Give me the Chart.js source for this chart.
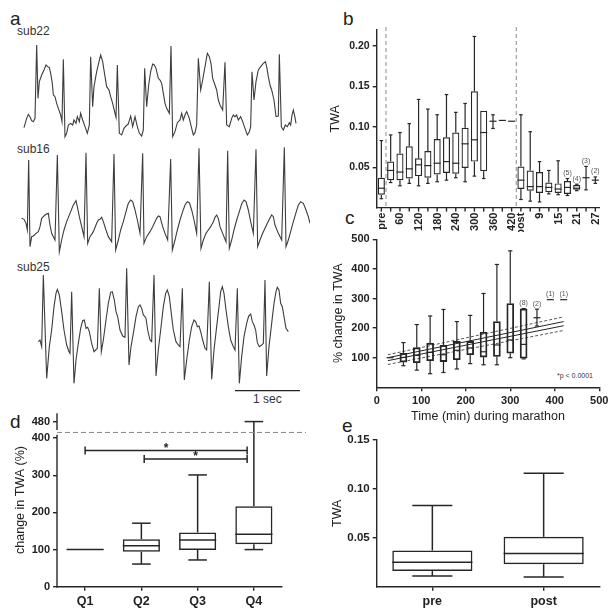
<!DOCTYPE html>
<html>
<head>
<meta charset="utf-8">
<script src="https://cdn.jsdelivr.net/npm/chart.js@4.4.1/dist/chart.umd.min.js"></script>
<style>
  html, body { margin: 0; padding: 0; background: #fff; }
  body { width: 616px; height: 616px; position: relative; overflow: hidden;
         font-family: "Liberation Sans", Arial, sans-serif; color: #222; }
  canvas { position: absolute; }
  .txt { position: absolute; line-height: 1; white-space: nowrap; }
  .letter { font-size: 19px; }
  .sub { font-size: 12px; color: #333; }
</style>
</head>
<body>
<div class="txt letter" style="left:10px;top:9px">a</div>
<div class="txt letter" style="left:343px;top:9px">b</div>
<div class="txt letter" style="left:345px;top:208px">c</div>
<div class="txt letter" style="left:10px;top:412px">d</div>
<div class="txt letter" style="left:342px;top:416px">e</div>
<div class="txt sub" style="left:17px;top:25px">sub22</div>
<div class="txt sub" style="left:17px;top:143px">sub16</div>
<div class="txt sub" style="left:17px;top:261px">sub25</div>
<div class="txt sub" style="left:253px;top:393px">1 sec</div>
<div class="txt" style="left:557px;top:372px;font-size:7px;color:#333">*p &lt; 0.0001</div>

<canvas id="chartB" width="306" height="232" style="left:310px;top:0"></canvas>
<canvas id="chartC" width="306" height="196" style="left:310px;top:228px"></canvas>
<canvas id="ecg22" width="310" height="100" style="left:0;top:40px"></canvas>
<canvas id="ecg16" width="310" height="117" style="left:0;top:140px"></canvas>
<canvas id="ecg25" width="310" height="130" style="left:0;top:265px"></canvas>
<canvas id="chartD" width="310" height="211" style="left:0;top:405px"></canvas>
<canvas id="chartE" width="306" height="186" style="left:310px;top:430px"></canvas>

<script>
const FONT = '"Liberation Sans", Arial, sans-serif';
const INK = '#262626';
Chart.defaults.font.family = FONT;
Chart.defaults.color = '#222';

// ---- a: ECG strips, x = sample index (195 samples per second), y = amplitude (a.u.)
const SAMPLES_PER_SEC = 195;
const sub22T = [72,80,85,90,95,100,105,110,114,118,125,132,138,143,148,152,157,160,165,170,175,182,186,190,195,200,205,212,218,222,228,232,238,242,248,255,262,268,272,278,282,290,297,302,308,315,320,327,332,338,345,348,352,358,365,372,378,385,392,398,405,412,418,425,430,434,440,446,452,458,463,468,475,480,485,490,495,500,508,513,518,525,532,540,545,550,555,560,568,575,580,585,590,595,602,608,615,622,628,633,638,645,650,655,660,668,675,680,688,695,700,705,710,715,722,728,735,742,748,752,756,762,768,775,782,790,796,800,805,810,815,822,828,835,838,844,850,856,862,868,872,876,880,885,888];
const sub22V = [17,45,57,50,38,35,45,265,105,155,175,190,205,200,197,180,150,115,110,90,75,55,35,222,-10,0,25,30,25,40,30,50,35,60,40,20,0,25,230,80,140,185,215,235,215,170,140,130,110,90,60,48,205,0,-5,15,22,28,52,20,50,20,0,-8,10,195,80,145,185,208,205,195,165,160,150,120,90,75,60,262,-10,5,32,40,60,40,55,65,45,15,-5,2,25,225,130,160,200,240,230,210,165,145,130,100,85,70,213,25,20,45,55,50,55,40,50,35,15,-5,5,20,185,100,155,190,200,210,215,200,170,145,130,100,50,52,237,20,10,25,20,32,25,55,70,48,30];
const sub16T = [65,72,78,82,86,90,95,100,108,115,120,125,130,135,140,145,150,155,160,165,172,178,185,192,200,210,220,228,232,238,245,252,258,263,270,280,290,295,300,305,310,318,325,335,342,347,355,362,370,378,385,392,398,405,412,420,428,432,440,450,458,465,470,475,480,488,495,503,512,517,525,532,540,548,555,562,568,575,582,590,597,603,610,618,625,632,640,645,650,655,660,668,678,683,688,695,702,710,718,725,732,738,745,752,760,768,773,780,788,795,802,808,815,820,825,835,845,853,858,865,872,880,888,895,902,910,918,925,930];
const sub16V = [95,92,80,60,270,10,40,42,50,55,70,95,100,105,108,110,75,50,40,30,285,-5,30,60,85,110,135,148,130,100,70,40,292,20,40,55,80,90,92,98,85,60,40,25,288,0,30,60,85,115,140,150,145,120,90,50,290,20,40,55,70,85,95,102,100,70,50,30,273,0,30,60,90,115,135,145,142,120,90,50,305,5,30,50,60,70,85,98,105,95,70,50,25,298,5,30,60,90,115,138,150,145,120,85,50,302,10,30,50,65,80,92,105,100,75,50,30,308,10,30,55,85,112,135,145,140,120,100,80];
const sub25T = [115,120,125,130,140,148,155,162,168,172,178,185,192,200,207,210,215,222,228,235,242,248,253,258,263,268,275,282,287,292,298,304,310,318,325,332,337,343,348,353,360,368,375,380,387,393,400,408,415,420,425,430,435,438,443,450,455,462,468,475,482,490,497,502,508,515,520,528,535,540,547,553,560,568,575,582,587,592,597,602,608,615,620,628,635,642,650,657,662,667,672,678,685,692,700,705,712,718,725,732,740,746,752,757,762,767,772,778,785,790,795,800,807,815,822,828,832,837,842,847,852,858,865];
const sub25V = [25,30,10,225,-85,10,60,130,170,182,165,115,60,15,-5,-10,175,-100,-30,20,65,88,90,65,68,55,20,-5,0,5,185,-5,30,90,140,173,175,150,115,100,60,42,38,245,-45,10,50,100,130,135,125,105,100,95,60,30,25,225,-78,0,60,130,170,180,160,100,60,25,15,10,185,-90,-30,30,70,90,85,70,72,55,30,5,0,205,-88,0,70,130,175,190,170,120,70,30,10,0,185,-100,-20,40,80,102,108,85,75,60,22,10,15,20,210,-78,10,80,140,175,188,180,140,130,100,65,55];
const scaleBarStart = 705;
const scaleBarLevel = -122;

// ---- b: TWA over time
const bCats = ['pre','30','60','90','120','150','180','210','240','270','300','330','360','390','420','post','6','9','12','15','18','21','24','27'];
const bTickLabels = ['pre','','60','','120','','180','','240','','300','','360','','420','post','','9','','15','','21','','27'];
const bMax = [0.083,0.090,0.093,0.104,0.134,0.122,0.115,0.140,0.118,0.129,0.212,0.120,0.115,0.108,0.107,0.115,0.094,0.057,0.046,0.058,0.036,0.029,0.051,0.038];
const bQ3  = [0.037,0.057,0.067,0.076,0.061,0.070,0.085,0.087,0.093,0.099,0.144,0.120,0.107,0.108,0.107,0.051,0.046,0.044,0.031,0.030,0.033,0.028,0.037,0.034];
const bMed = [0.024,0.046,0.044,0.048,0.053,0.052,0.055,0.057,0.055,0.079,0.084,0.093,0.107,0.108,0.107,0.034,0.026,0.026,0.025,0.023,0.025,0.024,0.037,0.034];
const bQ1  = [0.016,0.034,0.034,0.036,0.039,0.037,0.041,0.043,0.042,0.049,0.057,0.045,0.107,0.108,0.107,0.023,0.021,0.018,0.019,0.018,0.017,0.022,0.037,0.034];
const bMin = [0.011,0.031,0.027,0.030,0.027,0.030,0.032,0.034,0.037,0.032,0.039,0.036,0.098,0.108,0.107,0.010,0.008,0.007,0.017,0.016,0.015,0.021,0.022,0.030];
const bN   = ['','','','','','','','','','','','','','','','','','','','','(5)','(4)','(3)','(2)'];
const bSplitAfter = [0, 14];
const bYTicks = [0.05, 0.10, 0.15, 0.20];

// ---- c: % change in TWA during marathon
const cTimes = [30,60,90,120,150,180,210,240,270,300,330,360,390,420];
const cMax = [100,151,212,241,263,222,243,317,415,461,266,264,296,296];
const cQ3  = [100,115,134,149,142,155,155,186,222,283,265,235,296,296];
const cMed = [100,101,108,118,110,125,133,120,143,160,145,235,296,296];
const cQ1  = [100,85,83,90,87,93,110,102,104,115,98,235,296,296];
const cMin = [100,73,58,46,50,62,80,76,76,100,96,207,296,296];
const cN   = ['','','','','','','','','','','(8)','(2)','(1)','(1)'];
const fitX = [25, 420];
const fitA = [100, 222];
const fitB = [90, 208];
const ciUpper = [110, 238];
const ciLower = [77, 192];
const cXTicks = [0, 100, 200, 300, 400, 500];
const cYTicks = [100, 200, 300, 400, 500];

// ---- d: change in TWA by quartile
const dCats = ['Q1','Q2','Q3','Q4'];
const dMax = [100,171,301,480];
const dQ3  = [100,128,146,217];
const dMed = [100,110,126,141];
const dQ1  = [100,94,99,114];
const dMin = [100,61,72,100];
const dYTicks = [0, 100, 200, 300, 400, 480];
const bracketFrom = [0, 1.05];
const bracketTo = [2.88, 2.88];
const bracketLevel = [367, 344];
const D_BREAK = 415, D_SQUEEZE = 0.457;
const dAxisLowerEnd = 409, dAxisUpperStart = 431;

// ---- e: pre vs post
const eCats = ['pre','post'];
const eMax = [0.083,0.116];
const eQ3  = [0.037,0.051];
const eMed = [0.025,0.034];
const eQ1  = [0.016,0.023];
const eMin = [0.011,0.010];
const eYTicks = [0.05, 0.10, 0.15];

function seg(ctx, x1, y1, x2, y2) {
  ctx.beginPath(); ctx.moveTo(x1, y1); ctx.lineTo(x2, y2); ctx.stroke();
}

function common(pad) {
  return {
    responsive: false, animation: false, devicePixelRatio: 1, events: [],
    layout: { padding: pad },
    plugins: { legend: { display: false }, tooltip: { enabled: false } }
  };
}

function yAxis(o) {
  return {
    type: o.type || 'linear', min: o.min, max: o.max,
    border: { display: o.border !== false, color: INK, width: 1.4 },
    grid: { drawOnChartArea: false, tickLength: 4, color: INK, lineWidth: 1.4 },
    ticks: { font: { size: o.size || 11, weight: 'bold' }, color: '#222', padding: 3,
             callback: v => o.fmt ? v.toFixed(o.fmt) : v },
    title: { display: true, text: o.title, font: { size: 12.5 }, color: '#222',
             padding: { top: o.titlePad, bottom: 0 } },
    afterBuildTicks: s => { s.ticks = o.ticks.map(v => ({ value: v })); },
    afterFit: s => { s.width = o.width; s.paddingTop = 0; s.paddingBottom = 0; }
  };
}

function xCat(o) {
  return {
    type: 'category', offset: true,
    border: { color: INK, width: 1.4 },
    grid: { drawOnChartArea: false, offset: false, tickLength: 4, color: INK, lineWidth: 1.4 },
    ticks: { font: { size: o.size || 11, weight: 'bold' }, color: '#222', padding: 3,
             autoSkip: false, maxRotation: 0, callback: (v, i) => o.labels[i] },
    afterFit: s => { s.height = o.height; s.paddingLeft = 0; s.paddingRight = 0; }
  };
}

function boxPlugin(s) {
  return {
    id: 'box' + s.name,
    afterDatasetsDraw(chart) {
      const { ctx, scales: { x, y } } = chart;
      const w = s.frac ? Math.abs(x.getPixelForValue(1) - x.getPixelForValue(0)) * s.frac : s.px;
      ctx.save();
      ctx.strokeStyle = INK;
      ctx.lineWidth = s.lw;
      s.max.forEach((mx, i) => {
        const cx = x.getPixelForValue(s.pos ? s.pos[i] : i);
        const pMax = y.getPixelForValue(mx), pMin = y.getPixelForValue(s.min[i]);
        const pQ1 = y.getPixelForValue(s.q1[i]), pQ3 = y.getPixelForValue(s.q3[i]);
        const pMed = y.getPixelForValue(s.med[i]);
        const cap = w * s.cap / 2;
        seg(ctx, cx, pQ3, cx, pMax);
        seg(ctx, cx, pQ1, cx, pMin);
        if (mx !== s.q3[i]) seg(ctx, cx - cap, pMax, cx + cap, pMax);
        if (s.min[i] !== s.q1[i]) seg(ctx, cx - cap, pMin, cx + cap, pMin);
        seg(ctx, cx - w / 2, pMed, cx + w / 2, pMed);
        if (s.n && s.n[i]) {
          ctx.fillStyle = '#555'; ctx.font = '7px ' + FONT;
          ctx.textAlign = 'center'; ctx.textBaseline = 'bottom';
          ctx.fillText(s.n[i], cx, pMax - 2);
        }
      });
      ctx.restore();
    }
  };
}

function boxData(q1, q3) {
  return q1.map((v, i) => q3[i] > v ? [v, q3[i]] : null);
}

function boxDataset(data, extra) {
  return Object.assign({
    type: 'bar', data, backgroundColor: 'rgba(0,0,0,0)', borderColor: INK,
    borderWidth: 1.3, borderSkipped: false, categoryPercentage: 1
  }, extra);
}

// ---- b
const bSeparators = {
  id: 'bSep',
  afterDatasetsDraw(chart) {
    const { ctx, chartArea: a, scales: { x, y } } = chart;
    ctx.save();
    ctx.strokeStyle = '#8a8a8a'; ctx.lineWidth = 1; ctx.setLineDash([4, 3]);
    bSplitAfter.forEach(i => {
      const px = (x.getPixelForValue(i) + x.getPixelForValue(i + 1)) / 2;
      seg(ctx, px, a.top - 3, px, y.getPixelForValue(0));
    });
    ctx.restore();
  }
};
// x axis of panel b (vertical tick labels), anchored on the value 0 of the y scale
const bAxisX = {
  id: 'bAxisX',
  afterDraw(chart) {
    const { ctx, chartArea: a, scales: { x, y } } = chart;
    const y0 = y.getPixelForValue(0);
    ctx.save();
    ctx.strokeStyle = INK; ctx.lineWidth = 1.4;
    seg(ctx, a.left - 0.7, y0, a.right, y0);
    ctx.fillStyle = '#222';
    ctx.font = 'bold 11px ' + FONT;
    ctx.textAlign = 'right'; ctx.textBaseline = 'middle';
    bCats.forEach((c, i) => {
      const px = x.getPixelForValue(i);
      seg(ctx, px, y0, px, y0 + 4);
      if (bTickLabels[i]) {
        ctx.save();
        ctx.translate(px + 0.5, y0 + 5);
        ctx.rotate(-Math.PI / 2);
        ctx.fillText(bTickLabels[i], 0, 0);
        ctx.restore();
      }
    });
    ctx.font = '12.5px ' + FONT; ctx.textAlign = 'center';
    ctx.fillText('Time (min)', (a.left + a.right) / 2, y0 + 42.4);
    ctx.restore();
  }
};
new Chart(document.getElementById('chartB'), {
  type: 'bar',
  data: { labels: bCats, datasets: [boxDataset(bQ1.map((v, i) => [v, bQ3[i]]), { barPercentage: 0.76, borderWidth: 1.2 })] },
  options: Object.assign(common({ left: 0, top: 30, right: 16, bottom: 24.4 }), {
    scales: {
      x: { type: 'category', offset: true, display: false },
      y: yAxis({ min: 0, max: 0.22, ticks: bYTicks, fmt: 2, size: 10.5, title: 'TWA', titlePad: 17.8, width: 66.7 })
    }
  }),
  plugins: [boxPlugin({ name: 'b', max: bMax, q3: bQ3, med: bMed, q1: bQ1, min: bMin, n: bN, frac: 0.76, cap: 0.5, lw: 1.2 }), bSeparators, bAxisX]
});

// ---- c
function fitLine(ys, dash, color) {
  return { type: 'line', data: fitX.map((t, i) => ({ x: t, y: ys[i] })), borderColor: color,
           borderWidth: 1, borderDash: dash, pointRadius: 0 };
}
new Chart(document.getElementById('chartC'), {
  type: 'bar',
  data: { datasets: [
    boxDataset(cTimes.map((t, i) => ({ x: t, y: [cQ1[i], cQ3[i]] })).filter((d, i) => cQ3[i] > cQ1[i]),
               { barThickness: 7, borderWidth: 1.2 }),
    fitLine(fitA, [], INK), fitLine(fitB, [], INK),
    fitLine(ciUpper, [3, 2], '#555'), fitLine(ciLower, [3, 2], '#555')
  ] },
  options: Object.assign(common({ left: 0, top: 11.3, right: 16.7, bottom: 0 }), {
    scales: {
      x: { type: 'linear', min: 0, max: 500, offset: false,
           border: { color: INK, width: 1.4 },
           grid: { drawOnChartArea: false, offset: false, tickLength: 4, color: INK, lineWidth: 1.4 },
           ticks: { font: { size: 11, weight: 'bold' }, color: '#222', padding: 3 },
           title: { display: true, text: 'Time (min) during marathon', font: { size: 12.5 }, color: '#222',
                    padding: { top: 0, bottom: 0 } },
           afterBuildTicks: s => { s.ticks = cXTicks.map(v => ({ value: v })); },
           afterFit: s => { s.height = 36.7; s.paddingLeft = 0; s.paddingRight = 0; } },
      y: yAxis({ min: 0, max: 500, ticks: cYTicks, title: '% change in TWA', titlePad: 20.8, width: 66.7 })
    }
  }),
  plugins: [boxPlugin({ name: 'c', pos: cTimes, max: cMax, q3: cQ3, med: cMed, q1: cQ1, min: cMin, n: cN, px: 7, cap: 0.6, lw: 1.2 })]
});

// ---- a
function ecg(id, T, V, yMin, yMax, extra) {
  const ds = [{ data: T.map((t, i) => ({ x: t, y: V[i] })), borderColor: '#3d3d3d',
                borderWidth: 1.1, pointRadius: 0, tension: 0 }];
  if (extra) ds.push(extra);
  new Chart(document.getElementById(id), {
    type: 'line',
    data: { datasets: ds },
    options: Object.assign(common(0), {
      scales: { x: { type: 'linear', display: false, min: 0, max: 930 },
                y: { display: false, min: yMin, max: yMax } }
    })
  });
}
ecg('ecg22', sub22T, sub22V, -20, 280);
ecg('ecg16', sub16T, sub16V, -21, 330);
ecg('ecg25', sub25T, sub25V, -135, 255, {
  data: [{ x: scaleBarStart, y: scaleBarLevel }, { x: scaleBarStart + SAMPLES_PER_SEC, y: scaleBarLevel }],
  borderColor: '#222', borderWidth: 1.3, pointRadius: 0
});

// ---- d: y axis with a compressed segment above the break
class BrokenScale extends Chart.LinearScale {
  getPixelForValue(v) {
    const u = v > D_BREAK ? D_BREAK + (v - D_BREAK) * D_SQUEEZE : v;
    return super.getPixelForValue(u);
  }
  getValueForPixel(p) {
    const u = super.getValueForPixel(p);
    return u > D_BREAK ? D_BREAK + (u - D_BREAK) / D_SQUEEZE : u;
  }
}
BrokenScale.id = 'broken';
BrokenScale.defaults = {};
Chart.register(BrokenScale);

const dExtras = {
  id: 'dExtras',
  afterDraw(chart) {
    const { ctx, chartArea: a, scales: { x, y } } = chart;
    ctx.save();
    ctx.strokeStyle = INK; ctx.lineWidth = 1.4;
    seg(ctx, a.left, y.getPixelForValue(0) + 0.7, a.left, y.getPixelForValue(dAxisLowerEnd));
    seg(ctx, a.left, y.getPixelForValue(dAxisUpperStart), a.left, a.top);
    ctx.lineWidth = 1.5;
    ctx.fillStyle = '#222'; ctx.font = 'bold 12px ' + FONT;
    ctx.textAlign = 'center'; ctx.textBaseline = 'alphabetic';
    bracketFrom.forEach((f, i) => {
      const x1 = x.getPixelForValue(f), x2 = x.getPixelForValue(bracketTo[i]);
      const py = y.getPixelForValue(bracketLevel[i]);
      seg(ctx, x1, py, x2, py);
      seg(ctx, x1, py - 4, x1, py + 4);
      seg(ctx, x2, py - 4, x2, py + 4);
      ctx.fillText('*', (x1 + x2) / 2, py + 1.5);
    });
    ctx.strokeStyle = '#888'; ctx.lineWidth = 1; ctx.setLineDash([5, 3]);
    const pb = y.getPixelForValue(D_BREAK + 1);
    seg(ctx, a.left, pb, chart.width - 4, pb);
    ctx.restore();
  }
};
new Chart(document.getElementById('chartD'), {
  type: 'bar',
  data: { labels: dCats, datasets: [boxDataset(boxData(dQ1, dQ3), { barPercentage: 0.66, borderWidth: 1.5 })] },
  options: Object.assign(common({ left: 0, top: 8.3, right: 28, bottom: 0 }), {
    scales: {
      x: xCat({ labels: dCats, height: 29.3, size: 12.5 }),
      y: yAxis({ type: 'broken', min: 0, max: 467, ticks: dYTicks, title: 'change in TWA (%)', titlePad: 12.8, width: 57, border: false })
    }
  }),
  plugins: [boxPlugin({ name: 'd', max: dMax, q3: dQ3, med: dMed, q1: dQ1, min: dMin, frac: 0.66, cap: 0.5, lw: 1.5 }), dExtras]
});

// ---- e
new Chart(document.getElementById('chartE'), {
  type: 'bar',
  data: { labels: eCats, datasets: [boxDataset(boxData(eQ1, eQ3), { barPercentage: 0.72, borderWidth: 1.5 })] },
  options: Object.assign(common({ left: 0, top: 10, right: 16.7, bottom: 0 }), {
    scales: {
      x: xCat({ labels: eCats, height: 29.3, size: 12.5 }),
      y: yAxis({ min: 0, max: 0.15, ticks: eYTicks, fmt: 2, size: 11.5, title: 'TWA', titlePad: 19.8, width: 66.7 })
    }
  }),
  plugins: [boxPlugin({ name: 'e', max: eMax, q3: eQ3, med: eMed, q1: eQ1, min: eMin, frac: 0.72, cap: 0.5, lw: 1.5 })]
});
</script>
</body>
</html>
